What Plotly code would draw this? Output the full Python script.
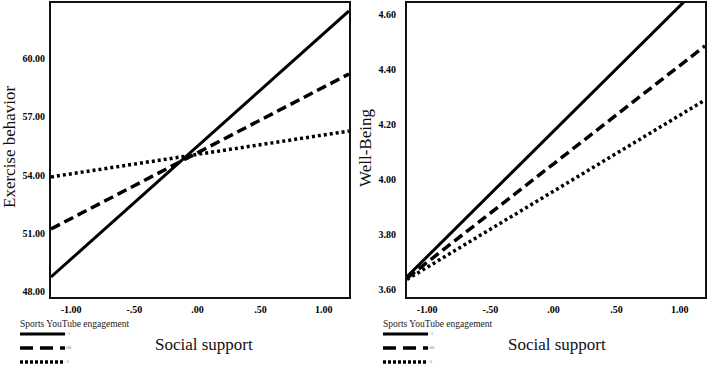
import plotly.graph_objects as go

# ---- data ----
social_support = [-1.16, 1.20]            # x extent of simple-slope lines
engagement_levels = ["+1", ".00", "-1"]    # Sports YouTube engagement levels
exercise_plus1 = [48.76, 62.45]
exercise_zero = [51.23, 59.21]
exercise_minus1 = [53.91, 56.27]
wellbeing_plus1 = [3.645, 4.72]
wellbeing_zero = [3.64, 4.484]
wellbeing_minus1 = [3.635, 4.287]

x_tickvals = [-1.0, -0.5, 0.0, 0.5, 1.0]
x_ticktext = ["-1.00", "-.50", ".00", ".50", "1.00"]
ex_tickvals = [48, 51, 54, 57, 60]
ex_ticktext = ["48.00", "51.00", "54.00", "57.00", "60.00"]
wb_tickvals = [3.6, 3.8, 4.0, 4.2, 4.4, 4.6]
wb_ticktext = ["3.60", "3.80", "4.00", "4.20", "4.40", "4.60"]
legend_sample_x = [0, 1]
legend_rows = [0, 1, 2]

W, H = 708, 367
SERIF = "Liberation Serif"
styles = [
    dict(color="black", width=3, dash="solid"),
    dict(color="black", width=3.5, dash="10px,5px"),
    dict(color="black", width=3.5, dash="3px,3px"),
]
leg_styles = [
    dict(color="black", width=3, dash="solid"),
    dict(color="black", width=3.5, dash="13px,7px"),
    dict(color="black", width=3.5, dash="3px,2px"),
]

fig = go.Figure()

for ys, st in zip([exercise_plus1, exercise_zero, exercise_minus1], styles):
    fig.add_trace(go.Scatter(x=social_support, y=ys, mode="lines", line=st,
                             xaxis="x", yaxis="y", showlegend=False, hoverinfo="skip"))
for ys, st in zip([wellbeing_plus1, wellbeing_zero, wellbeing_minus1], styles):
    fig.add_trace(go.Scatter(x=social_support, y=ys, mode="lines", line=st,
                             xaxis="x2", yaxis="y2", showlegend=False, hoverinfo="skip"))

# manual legends (one per panel) drawn on hidden axes
for xa, ya in [("x3", "y3"), ("x4", "y4")]:
    for row, lab, st in zip(legend_rows, engagement_levels, leg_styles):
        fig.add_trace(go.Scatter(x=legend_sample_x, y=[row, row], mode="lines", line=st,
                                 xaxis=xa, yaxis=ya, showlegend=False, hoverinfo="skip"))
        fig.add_trace(go.Scatter(x=[legend_sample_x[-1]], y=[row], mode="text", text=[lab],
                                 textposition="middle right", cliponaxis=False,
                                 textfont=dict(family=SERIF, size=5, color="#777"),
                                 xaxis=xa, yaxis=ya, showlegend=False, hoverinfo="skip"))

tickfont = dict(family=SERIF, size=10, color="black", weight="bold")
ydom = [70 / H, 364 / H]
common_x = dict(range=[-1.16, 1.20], tickvals=x_tickvals, ticktext=x_ticktext,
                showline=True, mirror=True, linewidth=2, linecolor="#111",
                showgrid=False, zeroline=False, ticks="", tickfont=tickfont,
                ticklabelstandoff=2, fixedrange=True)
common_y = dict(showline=True, mirror=True, linewidth=2, linecolor="#111",
                showgrid=False, zeroline=False, ticks="", tickfont=tickfont,
                fixedrange=True, domain=ydom)

# legend axes geometry: rows at pixel 334, 348, 362 (14 px apart), samples x 20..65
leg_ydom = [(H - 364.8) / H, (H - 331.2) / H]

fig.update_layout(
    width=W, height=H,
    margin=dict(l=0, r=0, t=0, b=0),
    paper_bgcolor="white", plot_bgcolor="white",
    xaxis=dict(domain=[51 / W, 349 / W], anchor="y", **common_x),
    yaxis=dict(anchor="x", range=[47.73, 62.86], tickvals=ex_tickvals,
               ticktext=ex_ticktext, ticklabelstandoff=2, **common_y),
    xaxis2=dict(domain=[407 / W, 705 / W], anchor="y2", **common_x),
    yaxis2=dict(anchor="x2", range=[3.571, 4.64], tickvals=wb_tickvals,
                ticktext=wb_ticktext, ticklabelstandoff=7, **common_y),
    xaxis3=dict(domain=[17.75 / W, 67.25 / W], range=[-0.05, 1.05], visible=False, anchor="y3", fixedrange=True),
    yaxis3=dict(domain=leg_ydom, range=[2.2, -0.2], visible=False, anchor="x3", fixedrange=True),
    xaxis4=dict(domain=[380.75 / W, 430.25 / W], range=[-0.05, 1.05], visible=False, anchor="y4", fixedrange=True),
    yaxis4=dict(domain=leg_ydom, range=[2.2, -0.2], visible=False, anchor="x4", fixedrange=True),
    showlegend=False,
)

annos = [
    dict(text="Social support", x=204 / W, y=(H - 344) / H, xanchor="center", yanchor="middle",
         font=dict(family=SERIF, size=17, color="#111")),
    dict(text="Social support", x=557 / W, y=(H - 344) / H, xanchor="center", yanchor="middle",
         font=dict(family=SERIF, size=17, color="#111")),
    dict(text="Exercise behavior", x=9 / W, y=(H - 147) / H, xanchor="center", yanchor="middle",
         textangle=-90, font=dict(family=SERIF, size=17, color="#111")),
    dict(text="Well-Being", x=366 / W, y=(H - 148) / H, xanchor="center", yanchor="middle",
         textangle=-90, font=dict(family=SERIF, size=17, color="#111")),
    dict(text="Sports YouTube engagement", x=18 / W, y=(H - 324) / H, xanchor="left", yanchor="middle",
         font=dict(family=SERIF, size=9.5, color="#222")),
    dict(text="Sports YouTube engagement", x=381 / W, y=(H - 324) / H, xanchor="left", yanchor="middle",
         font=dict(family=SERIF, size=9.5, color="#222")),
]
for a in annos:
    fig.add_annotation(xref="paper", yref="paper", showarrow=False, **a)

fig.write_html("out.html")
